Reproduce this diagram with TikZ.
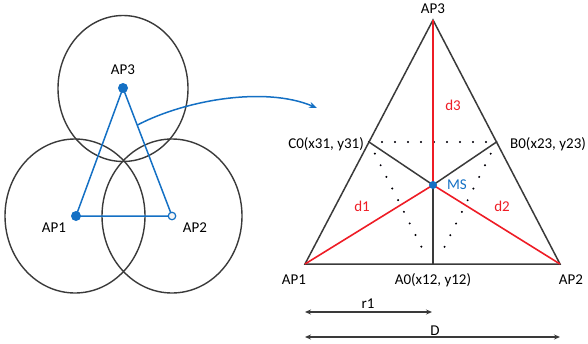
\documentclass[tikz,border=0pt]{standalone}
\usepackage{fontspec}
\setmainfont{Carlito}
\usetikzlibrary{arrows.meta,calc}
\definecolor{apblue}{HTML}{1470C4}
\definecolor{dred}{HTML}{EE1C25}
\definecolor{edgegray}{HTML}{3A3A3A}
\definecolor{lav}{HTML}{B9A3D9}
\begin{document}
\begin{tikzpicture}[x=1pt,y=-1pt,
  font=\fontsize{15}{17}\selectfont,
  ring/.style={draw=edgegray, line width=1.4pt},
  link/.style={draw=apblue, line width=1.5pt},
  apdot/.style={circle, fill=apblue, inner sep=0pt, minimum size=10pt},
  opendot/.style={circle, draw=apblue, fill=gray!8, line width=1.2pt, inner sep=0pt, minimum size=7.5pt},
  msdot/.style={circle, fill=apblue, inner sep=0pt, minimum size=8pt},
  side/.style={draw=edgegray, line width=1.5pt},
  dist/.style={draw=dred, line width=1.6pt},
  dotline/.style={draw=black, line width=2.2pt, line cap=round, dash pattern=on 0pt off 13pt},
  dotshade/.style={draw=lav, line width=1.8pt, line cap=round, dash pattern=on 0pt off 13pt},
  dim/.style={draw=edgegray, line width=1.3pt, {Stealth[length=6pt,width=5pt]}-{Stealth[length=6pt,width=5pt]}},
  lbl/.style={inner sep=1pt},
  redlbl/.style={inner sep=1pt, text=dred},
]
\useasboundingbox (0,0) rectangle (588,343);

% ---- coverage circles of the three access points ----
\draw[ring] (123,88.5) ellipse [x radius=65, y radius=73];
\draw[ring] (75,216) ellipse [x radius=70, y radius=77];
\draw[ring] (172,216) ellipse [x radius=70, y radius=77];

% ---- access point triangle ----
\coordinate (L1) at (76,216);
\coordinate (L2) at (172,216);
\coordinate (L3) at (123,88);
\draw[link] (L1) -- (L3) -- (L2) -- cycle;
\node[apdot] (p1) at (L1) {};
\node[apdot] (p3) at (L3) {};
\node[opendot] (p2) at (L2) {};
\node[lbl] (t3) at (123,70) {AP3};
\node[lbl] (t1) at (54,228) {AP1};
\node[lbl] (t2) at (195,228) {AP2};

% ---- zoom arrow ----
\coordinate (cs) at ($(L3)!0.29!(L2)$);
\coordinate (ct) at (317,108);
\draw[link, -{Stealth[length=8pt,width=6pt]}] (cs) .. controls (185,100) and (265,86) .. (ct);

% ---- detailed triangle ----
\coordinate (A1) at (305,264);
\coordinate (A2) at (560,264);
\coordinate (A3) at (433,20);
\coordinate (C0) at ($(A1)!0.5!(A3)$);
\coordinate (B0) at ($(A2)!0.5!(A3)$);
\coordinate (A0) at (433,264);
\coordinate (M) at (433,185);
\coordinate (cA) at (427,258);
\coordinate (bA) at (439,258);

% dotted mid-lines with light shadow
\begin{scope}[shift={(1.4,1.4)}]
  \draw[dotshade] (C0) -- (B0);
  \draw[dotshade] (C0) -- (cA);
  \draw[dotshade] (B0) -- (bA);
\end{scope}
\draw[dotline] (C0) -- (B0);
\draw[dotline] (C0) -- (cA);
\draw[dotline] (B0) -- (bA);

\draw[side] (A1) -- (A2) -- (A3) -- cycle;
\draw[side] (M) -- (C0);
\draw[side] (M) -- (B0);
\draw[side] (M) -- (A0);
\draw[dist] (M) -- (A1);
\draw[dist] (M) -- (A2);
\draw[dist] (M) -- (A3);
\node[msdot] (ms) at (M) {};

\node[lbl] (n3) at (433,9) {AP3};
\node[lbl] (n1) at (294,280) {AP1};
\node[lbl] (n2) at (571,280) {AP2};
\node[lbl] (na0) at (433,280) {A0(x12, y12)};
\node[lbl, anchor=east] (nc0) at (365,144) {C0(x31, y31)};
\node[lbl, anchor=west] (nb0) at (509,144) {B0(x23, y23)};
\node[lbl, text=apblue] (nms) at (457,185) {MS};
\node[redlbl] (nd3) at (453,105) {d3};
\node[redlbl] (nd1) at (362,206) {d1};
\node[redlbl] (nd2) at (502,206) {d2};

% ---- dimensions ----
\coordinate (r1a) at (305,312);
\coordinate (r1b) at (432,312);
\coordinate (Da) at (305,337);
\coordinate (Db) at (560,337);
\draw[dim] (r1a) -- (r1b);
\draw[dim] (Da) -- (Db);
\node[lbl] (nr1) at (368,304) {r1};
\node[lbl] (nD) at (435,331) {D};
\end{tikzpicture}
\end{document}
